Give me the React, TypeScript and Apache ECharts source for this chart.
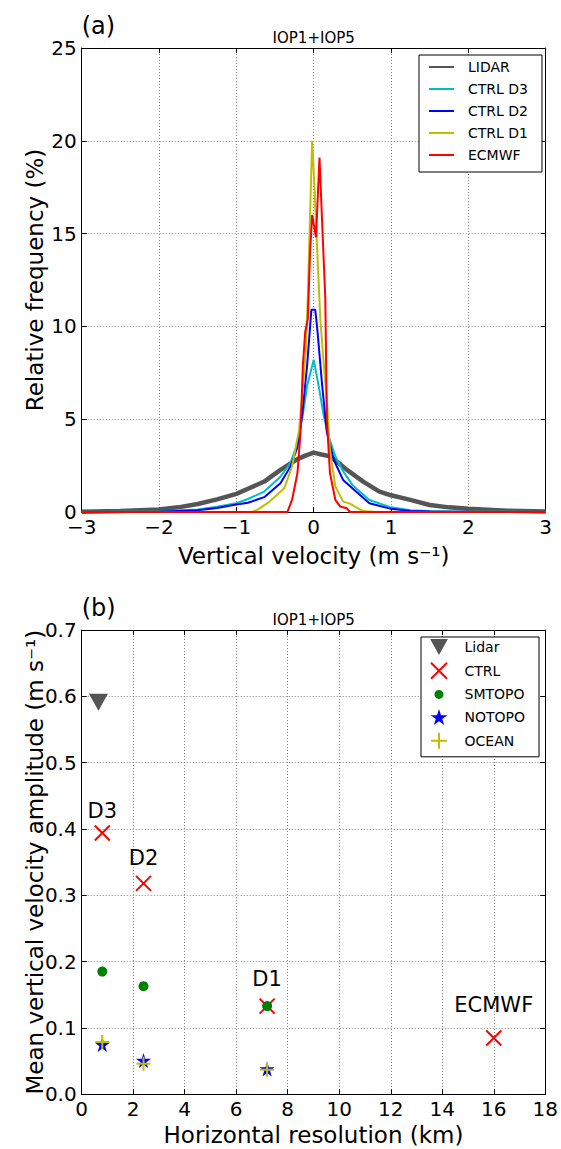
import React, { useEffect, useRef } from 'react';
import * as echarts from 'echarts';

// ---------- Panel (a): distributions of vertical velocity ----------
const LIDAR_X = [-3, -2.5, -2, -1.75, -1.5, -1.25, -1, -0.85, -0.64, -0.43, -0.21, -0.1, 0, 0.1, 0.21, 0.32, 0.43, 0.64, 0.85, 1, 1.25, 1.5, 1.75, 2, 2.5, 3];
const LIDAR_Y = [0.02, 0.06, 0.14, 0.25, 0.43, 0.68, 0.98, 1.25, 1.64, 2.27, 2.85, 3.05, 3.2, 3.1, 3.0, 2.65, 2.27, 1.64, 1.1, 0.9, 0.65, 0.38, 0.25, 0.18, 0.07, 0.03];

const D3_X = [-3, -2, -1.5, -1.25, -1, -0.85, -0.64, -0.43, -0.3, -0.21, -0.15, -0.085, 0, 0.064, 0.13, 0.19, 0.28, 0.38, 0.5, 0.72, 1.0, 1.25, 1.5, 2, 3];
const D3_Y = [0.0, 0.03, 0.14, 0.28, 0.47, 0.7, 1.1, 1.9, 2.65, 3.7, 5.0, 6.8, 8.2, 6.8, 5.2, 4.1, 3.0, 2.2, 1.46, 0.65, 0.25, 0.1, 0.06, 0.02, 0.0];

const D2_X = [-3, -2, -1.5, -1.25, -1, -0.85, -0.64, -0.43, -0.3, -0.21, -0.15, -0.085, -0.03, 0.02, 0.05, 0.11, 0.17, 0.26, 0.38, 0.5, 0.72, 1.0, 1.25, 1.5, 2, 3];
const D2_Y = [0.0, 0.02, 0.1, 0.22, 0.4, 0.5, 0.8, 1.55, 2.45, 3.5, 5.2, 7.9, 10.9, 10.9, 9.7, 6.8, 4.3, 2.8, 1.73, 1.28, 0.47, 0.17, 0.06, 0.03, 0.01, 0.0];

const D1_X = [-3, -0.8, -0.72, -0.57, -0.38, -0.28, -0.19, -0.15, -0.1, -0.077, -0.02, 0.0, 0.085, 0.13, 0.17, 0.21, 0.28, 0.38, 0.47, 0.55, 0.64, 0.8, 3];
const D1_Y = [0, 0.0, 0.14, 0.56, 1.28, 2.45, 4.4, 6.2, 8.8, 11.5, 20.0, 18.4, 10.4, 8.0, 6.0, 3.35, 1.37, 0.56, 0.45, 0.25, 0.05, 0.0, 0];

const EC_X = [-3, -0.34, -0.28, -0.21, -0.17, -0.14, -0.11, -0.076, -0.047, -0.02, 0.03, 0.075, 0.11, 0.15, 0.17, 0.21, 0.28, 0.34, 0.43, 0.47, 3];
const EC_Y = [0, 0, 0.65, 2.1, 4.3, 7.9, 9.7, 10.4, 14.0, 16.0, 14.8, 19.1, 15.5, 11.5, 5.0, 2.1, 0.65, 0.3, 0.2, 0, 0];

// ---------- Panel (b): mean amplitude vs horizontal resolution ----------
const RES_NAMES = ['D3', 'D2', 'D1', 'ECMWF'];
const RES_X = [0.8, 2.4, 7.2, 16];
const CTRL_Y = [0.394, 0.318, 0.133, 0.085];
const SMTOPO_Y = [0.185, 0.163, 0.133];
const NOTOPO_Y = [0.075, 0.051, 0.038];
const OCEAN_Y = [0.079, 0.046, 0.037];
const LIDAR_RES = [0.65];
const LIDAR_AMP = [0.591];

const zip = (xs: number[], ys: number[]) => ys.map((y, i) => [xs[i], y]);

const FONT = 'DejaVu Sans';
const minusFmt = (v: number) => (v < 0 ? '\u2212' + Math.abs(v) : String(v));

const STAR = 'path://M0,-10 L2.24,-3.08 L9.51,-3.09 L3.62,1.18 L5.88,8.09 L0,3.81 L-5.88,8.09 L-3.62,1.18 L-9.51,-3.09 L-2.24,-3.08 Z';
const XMARK = 'path://M0 0L10 10M10 0L0 10';
const PLUS = 'path://M5 0L5 10M0 5L10 5';
const DOWN_TRI = 'path://M0 0L20 0L10 18Z';

const gridLine = { show: true, lineStyle: { type: [1, 2], color: '#888', width: 1 } };
const axLine = { show: true, onZero: false, lineStyle: { color: '#000', width: 1 } };
const axTick = { show: true, inside: true, length: 5, lineStyle: { color: '#000', width: 1 } };
const tickLabel = { fontSize: 20, color: '#000', margin: 5, fontFamily: FONT };
const nameStyle = { fontSize: 23, color: '#000', fontFamily: FONT };

export default function App() {
  const ref = useRef<HTMLDivElement>(null);
  useEffect(() => {
    if (!ref.current) return;
    const chart = echarts.init(ref.current, undefined, { renderer: 'svg' });
    const g1 = { left: 81.7, top: 48, width: 464, height: 464 };
    const g2 = { left: 81.7, top: 630, width: 464.3, height: 464.3 };
    const option: any = {
      animation: false,
      backgroundColor: '#fff',
      textStyle: { fontFamily: FONT },
      grid: [g1, g2],
      xAxis: [
        {
          type: 'value', gridIndex: 0, min: -3, max: 3, interval: 1, position: 'bottom',
          axisLine: axLine, axisTick: axTick, splitLine: gridLine,
          axisLabel: { ...tickLabel, formatter: minusFmt },
          name: 'Vertical velocity (m s\u207B\u00B9)', nameLocation: 'middle', nameGap: 32, nameTextStyle: nameStyle,
        },
        {
          type: 'value', gridIndex: 0, min: -3, max: 3, interval: 1, position: 'top',
          axisLine: axLine, axisTick: axTick, splitLine: { show: false }, axisLabel: { show: false },
        },
        {
          type: 'value', gridIndex: 1, min: 0, max: 18, interval: 2, position: 'bottom',
          axisLine: axLine, axisTick: axTick, splitLine: gridLine,
          axisLabel: { ...tickLabel },
          name: 'Horizontal resolution (km)', nameLocation: 'middle', nameGap: 29, nameTextStyle: nameStyle,
        },
        {
          type: 'value', gridIndex: 1, min: 0, max: 18, interval: 2, position: 'top',
          axisLine: axLine, axisTick: axTick, splitLine: { show: false }, axisLabel: { show: false },
        },
      ],
      yAxis: [
        {
          type: 'value', gridIndex: 0, min: 0, max: 25, interval: 5, position: 'left',
          axisLine: axLine, axisTick: axTick, splitLine: gridLine,
          axisLabel: { ...tickLabel },
          name: 'Relative frequency (%)', nameLocation: 'middle', nameGap: 35, nameMoveOverlap: false, nameTextStyle: nameStyle,
        },
        {
          type: 'value', gridIndex: 0, min: 0, max: 25, interval: 5, position: 'right',
          axisLine: axLine, axisTick: axTick, splitLine: { show: false }, axisLabel: { show: false },
        },
        {
          type: 'value', gridIndex: 1, min: 0, max: 0.7, interval: 0.1, position: 'left',
          axisLine: axLine, axisTick: axTick, splitLine: gridLine,
          axisLabel: { ...tickLabel, formatter: (v: number) => v.toFixed(1) },
          name: 'Mean vertical velocity amplitude (m s\u207B\u00B9)', nameLocation: 'middle', nameGap: 35, nameMoveOverlap: false, nameTextStyle: nameStyle,
        },
        {
          type: 'value', gridIndex: 1, min: 0, max: 0.7, interval: 0.1, position: 'right',
          axisLine: axLine, axisTick: axTick, splitLine: { show: false }, axisLabel: { show: false },
        },
      ],
      legend: [
        {
          orient: 'vertical', left: 419, top: 55, padding: [5, 14, 10, 9], itemGap: 8,
          itemWidth: 25, itemHeight: 14, borderColor: '#000', borderWidth: 1, borderRadius: 0,
          backgroundColor: '#fff', selectedMode: false,
          textStyle: { fontSize: 14, color: '#000', fontFamily: FONT, padding: [0, 0, 0, 9] },
          itemStyle: { opacity: 0 },
          data: ['LIDAR', 'CTRL D3', 'CTRL D2', 'CTRL D1', 'ECMWF'],
        },
        {
          orient: 'vertical', left: 421, top: 637, padding: [2, 14, 7, 9], itemGap: 6.7,
          itemWidth: 25, itemHeight: 16, borderColor: '#000', borderWidth: 1, borderRadius: 0,
          backgroundColor: '#fff', selectedMode: false,
          textStyle: { fontSize: 14, color: '#000', fontFamily: FONT, padding: [0, 0, 0, 8] },
          itemStyle: { opacity: 1 },
          data: [
            { name: 'Lidar' },
            { name: 'CTRL', itemStyle: { borderWidth: 2 } },
            { name: 'SMTOPO', icon: 'path://M0 0M16 16M8 3.5A4.5 4.5 0 1 1 7.99 3.5Z' },
            { name: 'NOTOPO' },
            { name: 'OCEAN', itemStyle: { borderWidth: 2 } },
          ],
        },
      ],
      graphic: [
        { type: 'text', left: 81.7, top: 14, style: { text: '(a)', fontSize: 24, fill: '#000', fontFamily: FONT } },
        { type: 'text', x: 313.7, y: 38, style: { text: 'IOP1+IOP5', fontSize: 15, fill: '#000', fontFamily: FONT, align: 'center', verticalAlign: 'middle' } },
        { type: 'text', left: 81.7, top: 596, style: { text: '(b)', fontSize: 24, fill: '#000', fontFamily: FONT } },
        { type: 'text', x: 313.7, y: 619.5, style: { text: 'IOP1+IOP5', fontSize: 15, fill: '#000', fontFamily: FONT, align: 'center', verticalAlign: 'middle' } },
      ],
      series: [
        { name: 'LIDAR', type: 'line', xAxisIndex: 0, yAxisIndex: 0, symbol: 'none', data: zip(LIDAR_X, LIDAR_Y), lineStyle: { color: '#555555', width: 4.5 }, itemStyle: { color: '#555555' } },
        { name: 'CTRL D3', type: 'line', xAxisIndex: 0, yAxisIndex: 0, symbol: 'none', data: zip(D3_X, D3_Y), lineStyle: { color: '#00bfbf', width: 2 }, itemStyle: { color: '#00bfbf' } },
        { name: 'CTRL D2', type: 'line', xAxisIndex: 0, yAxisIndex: 0, symbol: 'none', data: zip(D2_X, D2_Y), lineStyle: { color: '#0000ff', width: 2 }, itemStyle: { color: '#0000ff' } },
        { name: 'CTRL D1', type: 'line', xAxisIndex: 0, yAxisIndex: 0, symbol: 'none', data: zip(D1_X, D1_Y), lineStyle: { color: '#bfbf00', width: 2 }, itemStyle: { color: '#bfbf00' } },
        { name: 'ECMWF', type: 'line', xAxisIndex: 0, yAxisIndex: 0, symbol: 'none', data: zip(EC_X, EC_Y), lineStyle: { color: '#ff0000', width: 2 }, itemStyle: { color: '#ff0000' } },

        {
          name: 'Lidar', type: 'scatter', xAxisIndex: 2, yAxisIndex: 2, symbol: DOWN_TRI, symbolSize: [19, 17],
          itemStyle: { color: '#555555', opacity: 1 }, data: zip(LIDAR_RES, LIDAR_AMP),
        },
        {
          name: 'CTRL', type: 'scatter', xAxisIndex: 2, yAxisIndex: 2, symbol: XMARK, symbolSize: 15,
          itemStyle: { color: '#ff0000', borderColor: '#ff0000', borderWidth: 2, opacity: 1 },
          label: { show: true, position: 'top', distance: 3, formatter: '{b}', fontSize: 21, color: '#000', fontFamily: FONT },
          data: CTRL_Y.map((y, i) => ({
            name: RES_NAMES[i], value: [RES_X[i], y],
            label: { offset: [0, i === 0 ? 0 : i === 1 ? -3 : i === 2 ? -5 : -11] },
          })),
        },
        {
          name: 'SMTOPO', type: 'scatter', xAxisIndex: 2, yAxisIndex: 2, symbol: 'circle', symbolSize: 10,
          itemStyle: { color: '#008000', opacity: 1 }, data: zip(RES_X, SMTOPO_Y),
        },
        {
          name: 'NOTOPO', type: 'scatter', xAxisIndex: 2, yAxisIndex: 2, symbol: STAR, symbolSize: 15,
          itemStyle: { color: '#0000ff', opacity: 1 }, data: zip(RES_X, NOTOPO_Y),
        },
        {
          name: 'OCEAN', type: 'scatter', xAxisIndex: 2, yAxisIndex: 2, symbol: PLUS, symbolSize: 14,
          itemStyle: { color: '#bfbf00', borderColor: '#bfbf00', borderWidth: 2, opacity: 1 }, data: zip(RES_X, OCEAN_Y),
        },
      ],
    };
    chart.setOption(option);
    return () => chart.dispose();
  }, []);
  return <div ref={ref} style={{ position: 'absolute', left: 0, top: 0, width: 561, height: 1149 }} />;
}
